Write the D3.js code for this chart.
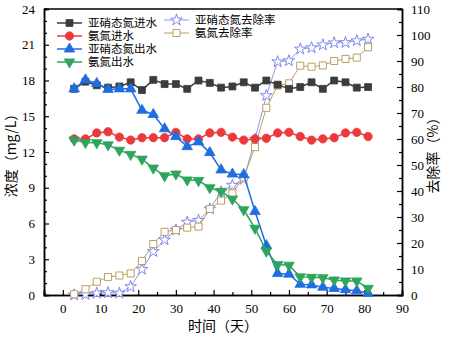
<!DOCTYPE html>
<html>
<head>
<meta charset="utf-8">
<script src="https://cdn.jsdelivr.net/npm/d3@7"></script>
<style>
  body { margin: 0; background: #fff; }
  svg text { fill: #000; }
  .tick text { font-family: "Liberation Serif", "Times New Roman", serif; font-size: 13px; }
  .cn { font-family: "Noto Sans CJK SC", sans-serif; }
</style>
</head>
<body>
<svg id="chart" width="450" height="340"></svg>
<script>
// sampling days
const days = [3, 6, 9, 12, 15, 18, 21, 24, 27, 30, 33, 36, 39, 42, 45, 48, 51, 54, 57, 60, 63, 66, 69, 72, 75, 78, 81];

// concentrations, mg/L
const nitriteIn = [17.3, 17.9, 17.6, 17.4, 17.5, 17.85, 17.2, 18.05, 17.7, 17.7, 17.3, 18.0, 17.8, 17.4, 17.5, 17.85, 17.4, 18.0, 17.65, 17.3, 17.45, 17.85, 17.3, 18.0, 17.85, 17.4, 17.45];
const ammoniaIn = [13.1, 13.1, 13.6, 13.7, 13.25, 13.0, 13.2, 13.2, 13.2, 13.65, 13.1, 13.1, 13.6, 13.65, 13.25, 13.0, 13.1, 13.15, 13.6, 13.65, 13.3, 13.0, 13.1, 13.2, 13.6, 13.65, 13.3];
const nitriteOut = [17.3, 18.05, 17.75, 17.25, 17.3, 17.3, 15.5, 15.15, 13.95, 13.3, 12.45, 12.85, 11.95, 10.5, 10.15, 10.1, 7.0, 4.15, 1.8, 1.75, 0.9, 0.85, 0.65, 0.55, 0.45, 0.35, 0.15];
const ammoniaOut = [13.0, 12.8, 12.78, 12.6, 12.15, 11.8, 11.4, 10.65, 10.0, 10.15, 9.65, 9.6, 9.0, 8.7, 8.05, 7.15, 5.6, 3.68, 2.55, 2.5, 1.52, 1.48, 1.45, 1.26, 1.18, 1.18, 0.56];

// removal rates, %
const nitriteRemoval = [0, 0.2, 0.7, 0.9, 0.7, 3.2, 9.9, 16.7, 21.2, 25, 28, 28.7, 33.1, 39.7, 42.2, 44.5, 59.9, 76.7, 89.7, 90.1, 94.6, 95.1, 96.2, 97.0, 97.1, 97.8, 98.4];
const ammoniaRemoval = [0.3, 2.2, 5.1, 6.9, 7.5, 8.3, 13.1, 19.6, 24.3, 25, 25.9, 26.3, 33.1, 36.3, 39.1, 45.3, 56.9, 72, 80.6, 81.4, 88.2, 87.8, 88.3, 90, 90.8, 91.3, 95.3];

const leftTicks = [0, 3, 6, 9, 12, 15, 18, 21, 24];
const rightTicks = [0, 10, 20, 30, 40, 50, 60, 70, 80, 90, 100, 110];
const xTicks = [0, 10, 20, 30, 40, 50, 60, 70, 80, 90];

const svg = d3.select('#chart');
const box = { left: 44, right: 402, top: 9, bottom: 295 };

const x = d3.scaleLinear().domain([-5, 90]).range([box.left, box.right]);
const yL = d3.scaleLinear().domain([0, 24]).range([box.bottom, box.top]);
const yR = d3.scaleLinear().domain([0, 110]).range([box.bottom, box.top]);

// ---- axes (ticks point inward) ----
function styleAxis(g) {
  g.select('.domain').attr('stroke', '#000').attr('stroke-width', 1.5);
  g.selectAll('.tick line').attr('stroke', '#000').attr('stroke-width', 1.2);
}

const minorX = d3.range(-5, 90, 5).filter(v => v % 10 !== 0);
svg.append('g').attr('transform', `translate(0,${box.bottom})`)
  .call(d3.axisBottom(x).tickValues(minorX).tickSize(-3).tickFormat(''))
  .call(styleAxis);
svg.append('g').attr('transform', `translate(0,${box.bottom})`)
  .call(d3.axisBottom(x).tickValues(xTicks).tickSize(-5).tickPadding(9))
  .call(styleAxis);

const minorL = d3.range(0, 24, 1).filter(v => v % 3 !== 0);
svg.append('g').attr('transform', `translate(${box.left},0)`)
  .call(d3.axisLeft(yL).tickValues(minorL).tickSize(-3).tickFormat(''))
  .call(styleAxis);
svg.append('g').attr('transform', `translate(${box.left},0)`)
  .call(d3.axisLeft(yL).tickValues(leftTicks).tickSize(-5).tickPadding(9))
  .call(styleAxis);

const minorR = d3.range(5, 110, 10);
svg.append('g').attr('transform', `translate(${box.right},0)`)
  .call(d3.axisRight(yR).tickValues(minorR).tickSize(-3).tickFormat(''))
  .call(styleAxis);
svg.append('g').attr('transform', `translate(${box.right},0)`)
  .call(d3.axisRight(yR).tickValues(rightTicks).tickSize(-5).tickPadding(9))
  .call(styleAxis);

// top border
svg.append('line')
  .attr('x1', box.left).attr('x2', box.right)
  .attr('y1', box.top).attr('y2', box.top)
  .attr('stroke', '#000').attr('stroke-width', 1.5);

// ---- axis titles ----
svg.append('text').attr('class', 'cn')
  .attr('transform', `translate(16,${(box.top + box.bottom) / 2}) rotate(-90)`)
  .attr('text-anchor', 'middle').attr('font-size', 14)
  .text('浓度（mg/L）');
svg.append('text').attr('class', 'cn')
  .attr('transform', `translate(438,${(box.top + box.bottom) / 2}) rotate(-90)`)
  .attr('text-anchor', 'middle').attr('font-size', 14)
  .text('去除率（%）');
svg.append('text').attr('class', 'cn')
  .attr('x', (box.left + box.right) / 2).attr('y', 331)
  .attr('text-anchor', 'middle').attr('font-size', 14)
  .text('时间（天）');

// ---- series ----
const series = [
  { name: '亚硝态氮去除率', values: nitriteRemoval, y: yR, color: '#8088ee', symbol: d3.symbolStar, size: 42, open: true, width: 0.9 },
  { name: '氨氮去除率', values: ammoniaRemoval, y: yR, color: '#b9a060', symbol: d3.symbolSquare, size: 50, open: true, width: 1 },
  { name: '亚硝态氮进水', values: nitriteIn, y: yL, color: '#3c3c3c', symbol: d3.symbolSquare, size: 48, width: 1.5 },
  { name: '氨氮进水', values: ammoniaIn, y: yL, color: '#ec3a3c', symbol: d3.symbolCircle, size: 55, width: 1.5 },
  { name: '亚硝态氮出水', values: nitriteOut, y: yL, color: '#1e6ee0', symbol: d3.symbolTriangle, size: 48, width: 1.5 },
  { name: '氨氮出水', values: ammoniaOut, y: yL, color: '#2ea45c', symbol: d3.symbolTriangle, size: 48, width: 1.5, flip: true }
];

function markerAttrs(sel, s) {
  sel.attr('d', d3.symbol(s.symbol, s.size))
    .attr('fill', s.open ? '#fff' : s.color)
    .attr('stroke', s.color)
    .attr('stroke-width', s.open ? 1 : 0.8);
}

series.forEach(s => {
  const pts = days.map((d, i) => [x(d), s.y(s.values[i])]);
  const g = svg.append('g');
  g.append('path')
    .attr('d', d3.line()(pts))
    .attr('fill', 'none')
    .attr('stroke', s.color)
    .attr('stroke-width', s.width);
  g.selectAll('path.mk').data(pts).join('path')
    .attr('class', 'mk')
    .attr('transform', p => `translate(${p[0]},${p[1]})${s.flip ? ' rotate(180)' : ''}`)
    .call(markerAttrs, s);
});

// ---- legends ----
const legLeft = series.slice(2).map((s, i) => ({ s, lx: 57, ly: 23 + i * 13 }));
const legRight = series.slice(0, 2).map((s, i) => ({ s, lx: 164, ly: 20 + i * 13 }));

legLeft.concat(legRight).forEach(({ s, lx, ly }) => {
  const g = svg.append('g');
  g.append('line')
    .attr('x1', lx).attr('x2', lx + 25)
    .attr('y1', ly).attr('y2', ly)
    .attr('stroke', s.color).attr('stroke-width', s.width);
  g.append('path')
    .attr('transform', `translate(${lx + 12.5},${ly})${s.flip ? ' rotate(180)' : ''}`)
    .call(markerAttrs, s);
  g.append('text').attr('class', 'cn')
    .attr('x', lx + 31).attr('y', ly).attr('dy', '0.36em')
    .attr('font-size', 11.5)
    .text(s.name);
});
</script>
</body>
</html>
